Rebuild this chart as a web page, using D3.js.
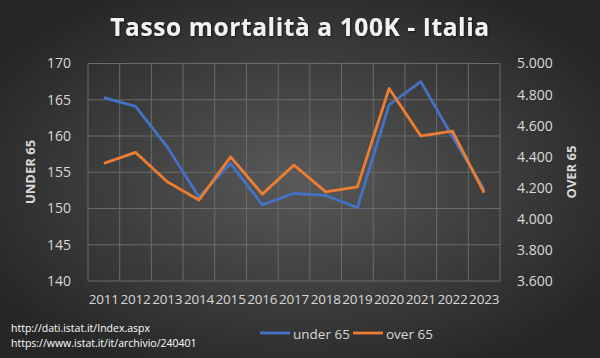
<!DOCTYPE html>
<html><head><meta charset="utf-8">
<script src="https://cdn.jsdelivr.net/npm/d3@7"></script>
<style>html,body{margin:0;padding:0;background:#333;}svg{display:block;}</style>
</head><body>
<svg id="c" width="600" height="358"></svg>
<script>
const years = ["2011","2012","2013","2014","2015","2016","2017","2018","2019","2020","2021","2022","2023"];
const under65 = [165.3,164.1,158.5,151.6,156.2,150.5,152.1,151.8,150.1,164.3,167.5,159.9,152.6];
const over65 = [4357,4428,4239,4121,4399,4159,4346,4174,4206,4839,4534,4565,4168];
const leftTicks = [140,145,150,155,160,165,170];
const rightTicks = [3600,3800,4000,4200,4400,4600,4800,5000];
const title = "Tasso mortalità a 100K - Italia";
const sources = ["http://dati.istat.it/Index.aspx","https://www.istat.it/it/archivio/240401"];

const W=600,H=358;
const m={l:88,r:500,t:63.5,b:281};
const svg=d3.select("#c");
const defs=svg.append("defs");
const rg=defs.append("radialGradient").attr("id","bg").attr("cx","50%").attr("cy","50%").attr("r","60%");
rg.append("stop").attr("offset","0%").attr("stop-color","#595959");
rg.append("stop").attr("offset","100%").attr("stop-color","#262626");
svg.append("rect").attr("width",W).attr("height",H).attr("fill","url(#bg)");

const x=d3.scaleBand().domain(years).range([m.l,m.r]);
const yL=d3.scaleLinear().domain([140,170]).range([m.b,m.t]);
const yR=d3.scaleLinear().domain([3600,5000]).range([m.b,m.t]);

const font="'Open Sans', sans-serif";
// gridlines
const g=svg.append("g");
g.selectAll("line.h").data(leftTicks).join("line")
 .attr("x1",m.l).attr("x2",m.r).attr("y1",d=>yL(d)).attr("y2",d=>yL(d))
 .attr("stroke","#6b6b6b").attr("stroke-width",1);
const vb=years.map(d=>x(d)).concat([m.r]);
g.selectAll("line.v").data(vb).join("line")
 .attr("x1",d=>d).attr("x2",d=>d).attr("y1",m.t).attr("y2",m.b)
 .attr("stroke","#6b6b6b").attr("stroke-width",1);

// left axis
const axL=svg.append("g").attr("transform",`translate(${m.l},0)`)
 .call(d3.axisLeft(yL).tickValues(leftTicks).tickSize(0).tickPadding(17));
axL.select(".domain").remove();
axL.selectAll("text").attr("fill","#d9d9d9").style("font-family",font).style("font-size","14px");
const fmtR=d=>d3.format(",.3f")(d/1000);
const axR=svg.append("g").attr("transform",`translate(${m.r},0)`)
 .call(d3.axisRight(yR).tickValues(rightTicks).tickSize(0).tickPadding(17).tickFormat(fmtR));
axR.select(".domain").remove();
axR.selectAll("text").attr("fill","#d9d9d9").style("font-family",font).style("font-size","14px");
const axB=svg.append("g").attr("transform",`translate(0,${m.b})`)
 .call(d3.axisBottom(x).tickSize(0).tickPadding(13));
axB.select(".domain").remove();
axB.selectAll("text").attr("fill","#d9d9d9").style("font-family",font).style("font-size","13.5px").attr("letter-spacing","-0.2");

// axis titles
svg.append("text").attr("transform","translate(35,172) rotate(-90)").attr("text-anchor","middle")
 .attr("fill","#d9d9d9").style("font-family",font).style("font-weight","bold").style("font-size","13px").text("UNDER 65");
svg.append("text").attr("transform","translate(576,172) rotate(-90)").attr("text-anchor","middle")
 .attr("fill","#d9d9d9").style("font-family",font).style("font-weight","bold").style("font-size","13px").text("OVER 65");

// lines
const cx=d=>x(d)+x.bandwidth()/2;
svg.append("path").datum(under65).attr("fill","none").attr("stroke","#4472C4").attr("stroke-width",2.8)
 .attr("stroke-linejoin","round")
 .attr("d",d3.line().x((d,i)=>cx(years[i])).y(d=>yL(d)));
svg.append("path").datum(over65).attr("fill","none").attr("stroke","#ED7D31").attr("stroke-width",2.8)
 .attr("stroke-linejoin","round")
 .attr("d",d3.line().x((d,i)=>cx(years[i])).y(d=>yR(d)));

// title
defs.append("filter").attr("id","sh").append("feDropShadow").attr("dx",0.8).attr("dy",0.8).attr("stdDeviation",1).attr("flood-color","#000").attr("flood-opacity",0.6);
svg.append("text").attr("x",300).attr("y",36).attr("text-anchor","middle").attr("fill","#f2f2f2")
 .attr("filter","url(#sh)").attr("letter-spacing","0.6")
 .style("font-family",font).style("font-weight","bold").style("font-size","24.5px").text(title);

// sources
svg.selectAll("text.src").data(sources).join("text").attr("class","src")
 .attr("x",11).attr("y",(d,i)=>332+i*15).attr("fill","#ffffff")
 .style("font-family",font).style("font-size","10.5px").text(d=>d);

// legend
const leg=[{n:"under 65",c:"#4472C4",x:260},{n:"over 65",c:"#ED7D31",x:353}];
const lg=svg.selectAll("g.leg").data(leg).join("g").attr("class","leg");
lg.append("line").attr("x1",d=>d.x).attr("x2",d=>d.x+30).attr("y1",333).attr("y2",333).attr("stroke",d=>d.c).attr("stroke-width",2.8);
lg.append("text").attr("x",d=>d.x+33).attr("y",338.5).attr("fill","#d9d9d9")
 .style("font-family",font).style("font-size","13.5px").text(d=>d.n);
</script>
</body></html>
